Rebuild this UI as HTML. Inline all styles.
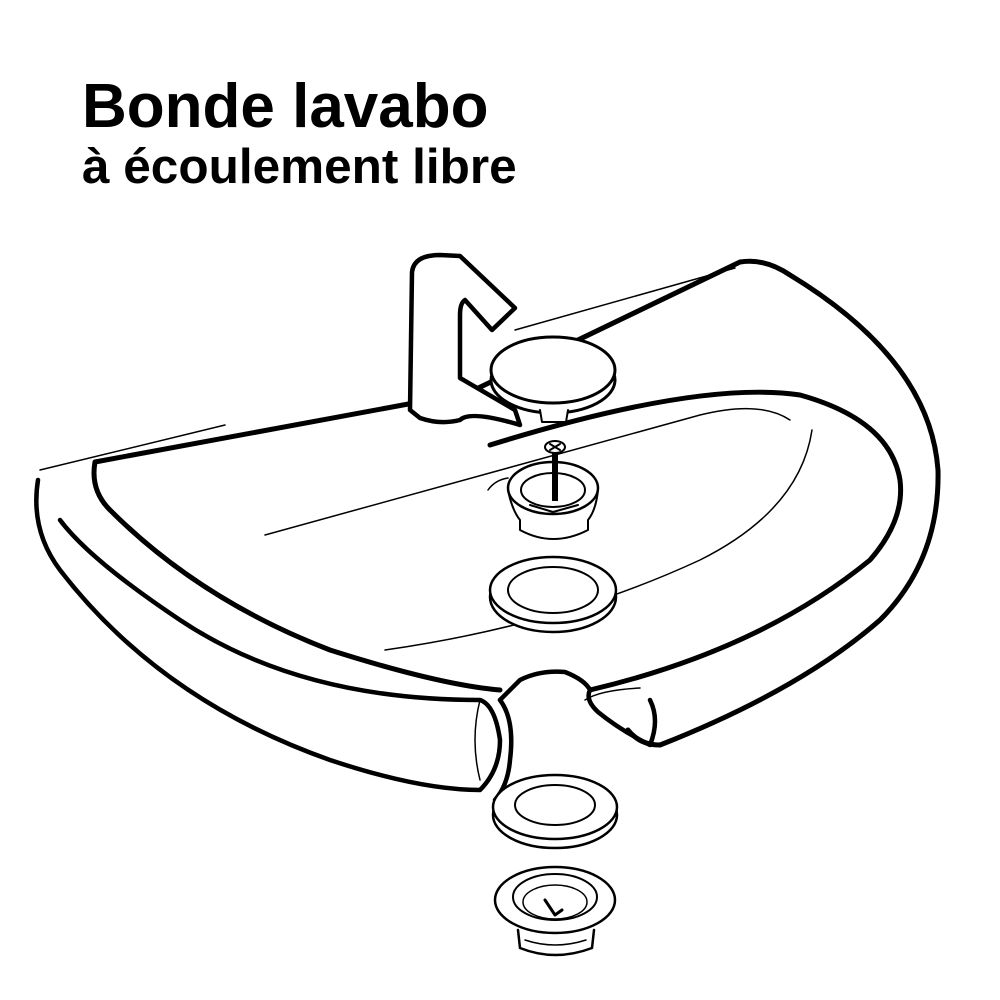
<!DOCTYPE html>
<html><head><meta charset="utf-8"><style>
html,body{margin:0;padding:0;background:#fff;width:1000px;height:1000px;overflow:hidden}
svg{display:block}
text{font-family:"Liberation Sans",Arial,sans-serif;font-weight:bold;fill:#000}
</style></head><body>
<svg width="1000" height="1000" viewBox="0 0 1000 1000" xmlns="http://www.w3.org/2000/svg">
<text x="82" y="127" font-size="62">Bonde lavabo</text>
<text x="82" y="183" font-size="49.5">à écoulement libre</text>
<g fill="none" stroke="#000" stroke-linecap="round" stroke-linejoin="round">
<path d="M40,470 L225,425" stroke-width="1.5"/>
<path d="M515,330 L735,268" stroke-width="1.5"/>
<path d="M95,462 L430,400 M470,392 L740,262 Q765,258 790,275 Q930,360 938,470 Q940,560 880,620 Q800,690 660,745 Q640,745 628,730" stroke-width="5"/>
<path d="M95,462 Q90,490 110,510 Q200,600 330,650 Q440,685 500,690" stroke-width="5"/>
<path d="M590,690 Q760,650 870,560 Q905,520 900,480 Q890,420 800,395 Q700,380 490,445" stroke-width="5"/>
<path d="M38,480 Q30,530 60,570 Q160,700 330,760 Q420,790 480,790 Q500,770 500,740 Q495,705 480,700 Q300,700 180,620 Q90,560 60,520" stroke-width="4.5"/>
<path d="M480,700 Q470,740 480,780" stroke-width="1.5"/>
<path d="M500,700 Q510,690 520,680 Q540,670 565,672 Q585,680 590,690 Q585,700 598,712 Q620,730 650,745 Q660,720 650,700" stroke-width="4.5"/>
<path d="M500,700 Q515,720 510,760 Q508,785 495,800" stroke-width="4.5"/>
<path d="M585,700 Q600,690 640,688" stroke-width="1.5"/>
<path d="M265,535 Q500,470 700,415 Q760,400 790,420" stroke-width="1.5"/>
<path d="M385,650 Q560,625 700,560 Q800,510 812,430" stroke-width="1.5"/>
<path d="M410,410 L412,272 Q414,255 440,255 L460,256 L515,308 L492,330 L465,300 Q460,303 460,315 L460,378 L515,410 L520,425 Q470,410 460,420 Q440,425 420,418 Z" stroke-width="4.5" fill="#fff"/>
<ellipse cx="553" cy="380" rx="62" ry="33" stroke-width="3" fill="#fff"/>
<ellipse cx="553" cy="370" rx="62" ry="33" stroke-width="3" fill="#fff"/>
<path d="M540,410 L542,422 L566,422 L568,410" stroke-width="2" fill="#fff"/>
<ellipse cx="555" cy="447" rx="10" ry="6" stroke-width="2" fill="#fff"/>
<path d="M550,444 L560,450 M560,444 L550,450" stroke-width="2"/>
<ellipse cx="553" cy="488" rx="45" ry="26" stroke-width="2.5" fill="#fff"/>
<ellipse cx="553" cy="490" rx="32" ry="17" stroke-width="2"/>
<path d="M508,490 Q512,510 520,520 L520,530 Q553,548 588,530 L588,520 Q596,510 598,490" stroke-width="2"/>
<path d="M530,505 L553,512 L578,505" stroke-width="2"/>
<rect x="552" y="453" width="6" height="48" fill="#000" stroke="none"/>
<path d="M488,490 Q495,480 508,478" stroke-width="1.5"/>
<ellipse cx="553" cy="597" rx="63" ry="35" stroke-width="2.5" fill="#fff"/>
<ellipse cx="553" cy="590" rx="63" ry="33" stroke-width="2.5" fill="#fff"/>
<ellipse cx="553" cy="590" rx="45" ry="23" stroke-width="2"/>
<ellipse cx="555" cy="815" rx="62" ry="33" stroke-width="2.5" fill="#fff"/>
<ellipse cx="555" cy="807" rx="62" ry="32" stroke-width="2.5" fill="#fff"/>
<ellipse cx="555" cy="805" rx="40" ry="20" stroke-width="2"/>
<ellipse cx="555" cy="900" rx="60" ry="33" stroke-width="2.5" fill="#fff"/>
<ellipse cx="555" cy="897" rx="42" ry="23" stroke-width="2"/>
<ellipse cx="555" cy="902" rx="32" ry="17" stroke-width="1.5"/>
<path d="M518,930 L520,948 Q555,962 592,948 L594,930" stroke-width="2.5"/>
<path d="M525,940 Q555,950 586,940" stroke-width="1.5"/>
<path d="M545,900 L555,915 L562,910" stroke-width="3"/>
</g>
</svg>
</body></html>
